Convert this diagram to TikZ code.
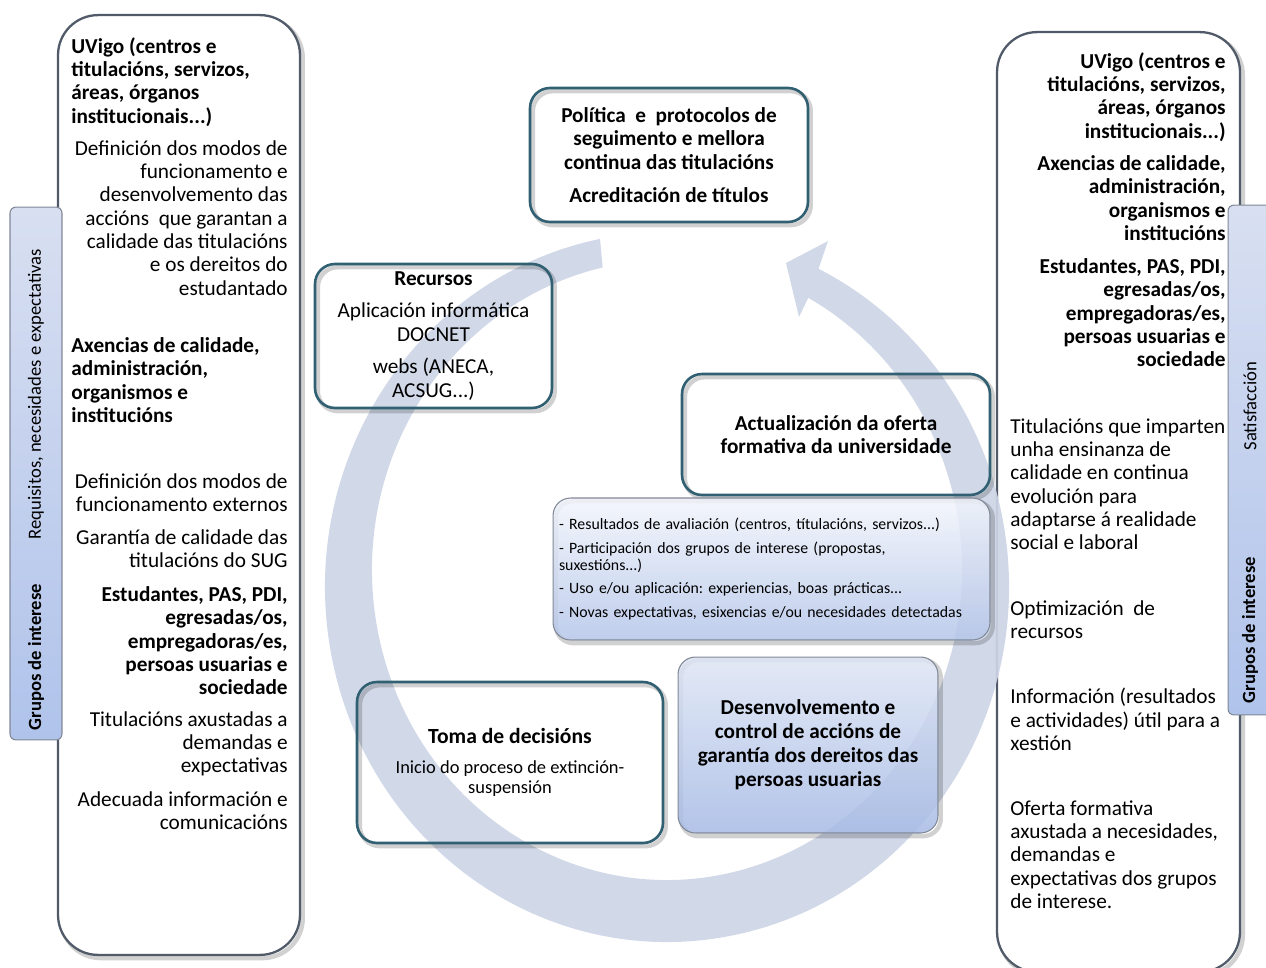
\documentclass[tikz,border=0pt]{standalone}
\usepackage{fontspec}
\setmainfont{Carlito}
\frenchspacing

\definecolor{tealline}{RGB}{49,96,114}
\definecolor{panelline}{RGB}{80,90,104}
\definecolor{softline}{RGB}{128,136,150}
\definecolor{bandblue}{RGB}{205,213,230}
\definecolor{tabtop}{RGB}{216,223,241}
\definecolor{tabbottom}{RGB}{176,195,235}

\begin{document}
\begin{tikzpicture}[
  x=0.02cm, y=-0.02cm,
  body/.style={font=\fontsize{12.1}{13.3}\selectfont, inner sep=0pt},
  bodyb/.style={font=\fontsize{12.1}{13.3}\selectfont\bfseries, inner sep=0pt},
  shade line/.style={preaction={draw=black, draw opacity=0.18, line width=2.5pt,
                     transform canvas={xshift=1.6pt, yshift=-1.8pt}}},
  panel/.style={shade line, draw=panelline, line width=1.3pt, fill=white,
                rounded corners=0.8cm},
  box/.style={shade line, draw=tealline, line width=1.5pt, rounded corners=0.4cm,
              align=center, inner sep=2pt, font=\fontsize{12.1}{13.3}\selectfont\bfseries},
  softbox/.style={shade line, draw=softline, line width=0.6pt, rounded corners=0.35cm,
                  fill opacity=0.85, text opacity=1},
  tab/.style={draw=softline, line width=0.6pt, rounded corners=0.12cm,
              top color=tabtop, bottom color=tabbottom},
  tabtext/.style={rotate=90, font=\fontsize{10.6}{12}\selectfont, inner sep=0pt},
  band/.style={fill=bandblue, fill opacity=0.92},
]
  \useasboundingbox (0,0) rectangle (1266,967);
  \clip (0,0) rectangle (1266,967);

  % side panels
  \node[panel, minimum width=4.84cm, minimum height=18.8cm] (lpanel) at (179,485) {};
  \node[panel, minimum width=4.86cm, minimum height=18.8cm] (rpanel) at (1118.5,502) {};

  % circular arrow
  \coordinate (ctr) at (667,587);
  \coordinate (ictr) at (667,570);
  \coordinate (wingout) at (828,241);
  \coordinate (tip) at (786,263);
  \coordinate (wingin) at (799,317);
  \fill[band] ([shift={(ctr)}]258.7:342 and 355)
    arc[start angle=258.7, end angle=-63.7, x radius=342, y radius=355]
    -- (wingout) -- (tip) -- (wingin)
    -- ([shift={(ictr)}]-61.4:295 and 310)
    arc[start angle=-61.4, end angle=257.4, x radius=295, y radius=310] -- cycle;

  % tabs
  \node[tab, minimum width=1.04cm, minimum height=10.66cm] (ltab) at (36,473.5) {};
  \node[tab, minimum width=1.04cm, minimum height=10.2cm] (rtab) at (1254,460) {};
  \node[tabtext] (lreq) at (36,394) {Requisitos, necesidades e expectativas};
  \node[tabtext, font=\fontsize{10.6}{12}\selectfont\bfseries] (lgrupos) at (36,657) {Grupos de interese};
  \node[tabtext] (rsat) at (1250,406) {Satisfacción};
  \node[tabtext, font=\fontsize{10.6}{12}\selectfont\bfseries] (rgrupos) at (1250,630) {Grupos de interese};

  % left panel texts
  \node[bodyb, anchor=north west, align=left] (luvigo) at (71,37)
    {UVigo (centros e\\titulacións, servizos,\\áreas, órganos\\institucionais...)};
  \node[body, anchor=north east, align=right] (ldefin) at (288,140)
    {Definición dos modos de\\funcionamento e\\desenvolvemento das\\accións\ \ que garantan a\\calidade das titulacións\\e os dereitos do\\estudantado};
  \node[bodyb, anchor=north west, align=left] (laxencias) at (71,337)
    {Axencias de calidade,\\administración,\\organismos e\\institucións};
  \node[body, anchor=north east, align=right] (lext) at (288,473)
    {Definición dos modos de\\funcionamento externos};
  \node[body, anchor=north east, align=right] (lsug) at (288,529)
    {Garantía de calidade das\\titulacións do SUG};
  \node[bodyb, anchor=north east, align=right] (lestud) at (288,586)
    {Estudantes, PAS, PDI,\\egresadas/os,\\empregadoras/es,\\persoas usuarias e\\sociedade};
  \node[body, anchor=north east, align=right] (laxust) at (288,711)
    {Titulacións axustadas a\\demandas e\\expectativas};
  \node[body, anchor=north east, align=right] (linfo) at (288,791)
    {Adecuada información e\\comunicacións};

  % right panel texts
  \node[bodyb, anchor=north east, align=right] (ruvigo) at (1226,52)
    {UVigo (centros e\\titulacións, servizos,\\áreas, órganos\\institucionais...)};
  \node[bodyb, anchor=north east, align=right] (raxencias) at (1226,155)
    {Axencias de calidade,\\administración,\\organismos e\\institucións};
  \node[bodyb, anchor=north east, align=right] (restud) at (1226,258)
    {Estudantes, PAS, PDI,\\egresadas/os,\\empregadoras/es,\\persoas usuarias e\\sociedade};
  \node[body, anchor=north west, align=left] (rtitul) at (1010,418)
    {Titulacións que imparten\\unha ensinanza de\\calidade en continua\\evolución para\\adaptarse á realidade\\social e laboral};
  \node[body, anchor=north west, align=left] (roptim) at (1010,600)
    {Optimización\ \ de\\recursos};
  \node[body, anchor=north west, align=left] (rinfo) at (1010,688)
    {Información (resultados\\e actividades) útil para a\\xestión};
  \node[body, anchor=north west, align=left] (roferta) at (1010,800)
    {Oferta formativa\\axustada a necesidades,\\demandas e\\expectativas dos grupos\\de interese.};

  % central boxes
  \node[box, minimum width=5.56cm, minimum height=2.68cm] (politica) at (669,155)
    {Política\ \ e\ \ protocolos de\\seguimento e mellora\\continua das titulacións\\[5.5pt]Acreditación de títulos};
  \node[box, minimum width=4.74cm, minimum height=2.88cm,
        font=\fontsize{12.1}{13.6}\selectfont] (recursos) at (433.5,336)
    {\textbf{Recursos}\\[4.5pt]Aplicación informática\\DOCNET\\[4.5pt]webs (ANECA,\\ACSUG...)};
  \node[box, minimum width=6.16cm, minimum height=2.42cm] (actual) at (836,434.5)
    {Actualización da oferta\\formativa da universidade};
  \node[softbox, top color={rgb,255:red,242;green,245;blue,251},
        bottom color={rgb,255:red,180;green,197;blue,233},
        minimum width=8.74cm, minimum height=2.84cm, text width=8.5cm, align=left,
        inner sep=0pt, font=\fontsize{9}{9.6}\selectfont] (avalia) at (771.5,569)
    {- Resultados de avaliación (centros, títulacións, servizos...)\\[4pt]
     - Participación dos grupos de interese (propostas,\\suxestións...)\\[4pt]
     - Uso e/ou aplicación: experiencias, boas prácticas...\\[4pt]
     - Novas expectativas, esixencias e/ou necesidades detectadas};
  \node[box, minimum width=6.12cm, minimum height=3.22cm,
        font=\fontsize{10.5}{11.9}\selectfont] (toma) at (510,762.5)
    {{\fontsize{12.3}{14}\selectfont\bfseries Toma de decisións}\\[5pt]Inicio do proceso de extinción-\\suspensión};
  \node[softbox, top color={rgb,255:red,222;green,229;blue,244},
        bottom color={rgb,255:red,166;green,186;blue,229},
        minimum width=5.2cm, minimum height=3.52cm, align=center,
        font=\fontsize{12.1}{13.6}\selectfont\bfseries] (desenv) at (808,745)
    {Desenvolvemento e\\control de accións de\\garantía dos dereitos das\\persoas usuarias};
\end{tikzpicture}
\end{document}
